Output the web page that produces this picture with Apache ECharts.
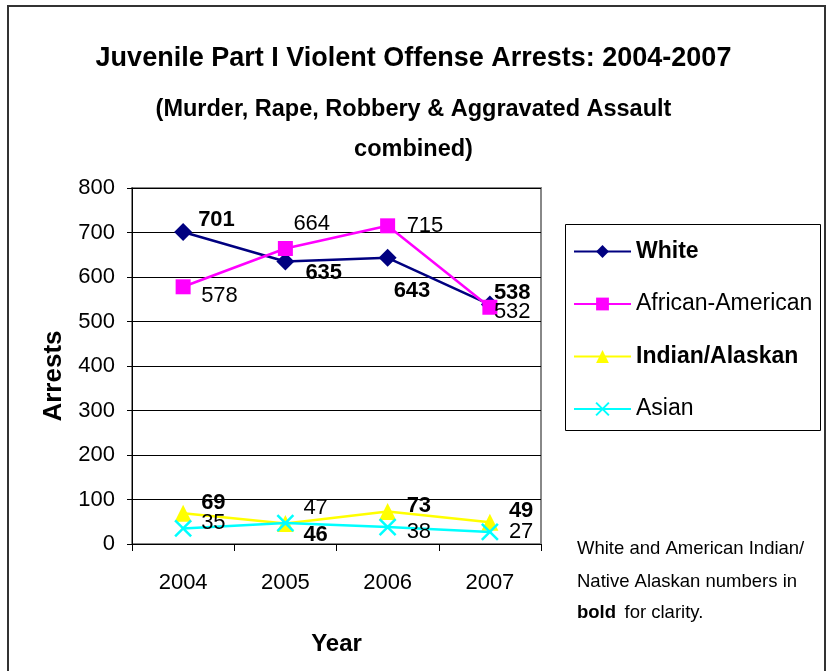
<!DOCTYPE html>
<html>
<head>
<meta charset="utf-8">
<script src="https://cdn.jsdelivr.net/npm/echarts@6/dist/echarts.min.js"></script>
<style>
html,body{margin:0;padding:0;background:#fff;}
#chart{width:827px;height:671px;}
</style>
</head>
<body>
<div id="chart"></div>
<script>
var years = ['2004', '2005', '2006', '2007'];
var white = [701, 635, 643, 538];
var africanAmerican = [578, 664, 715, 532];
var indianAlaskan = [69, 46, 73, 49];
var asian = [35, 47, 38, 27];
var yTicks = [0, 100, 200, 300, 400, 500, 600, 700, 800];

// label placement (style only): [dx from point to label left edge, dy to label centre]
var whiteLabelOffsets = [[15, -12], [20, 12], [6, 33], [4, -12]];
var aaLabelOffsets = [[18, 9], [8, -25], [19, 0], [4, 5]];
var indianLabelOffsets = [[18, -10], [18, 11], [19, -6], [19, -11]];
var asianLabelOffsets = [[18, -5], [18, -15], [19, 5], [19, 0]];

var FONT = "'Liberation Sans', Arial, sans-serif";

function build(values, offsets, bold) {
  return values.map(function (v, i) {
    return {
      value: v,
      label: {
        show: true,
        position: 'inside',
        align: 'left',
        verticalAlign: 'middle',
        offset: offsets[i],
        color: '#000',
        fontFamily: FONT,
        fontSize: 22,
        fontWeight: bold ? 'bold' : 'normal'
      }
    };
  });
}

var chart = echarts.init(document.getElementById('chart'), null, {renderer: 'canvas'});
var option = {
  backgroundColor: '#fff',
  animation: false,
  title: [
    {
      text: 'Juvenile Part I Violent Offense Arrests: 2004-2007',
      left: 'center', top: 40,
      textStyle: {fontFamily: FONT, fontSize: 27, fontWeight: 'bold', color: '#000'}
    },
    {
      text: '(Murder, Rape, Robbery & Aggravated Assault',
      left: 'center', top: 93,
      textStyle: {fontFamily: FONT, fontSize: 23.5, fontWeight: 'bold', color: '#000'}
    },
    {
      text: 'combined)',
      left: 'center', top: 133,
      textStyle: {fontFamily: FONT, fontSize: 23.5, fontWeight: 'bold', color: '#000'}
    }
  ],
  grid: {
    left: 132, top: 188, width: 409, height: 356,
    show: true, borderColor: '#888', borderWidth: 2, backgroundColor: 'transparent'
  },
  xAxis: {
    type: 'category',
    data: years,
    boundaryGap: true,
    name: 'Year',
    nameLocation: 'middle',
    nameGap: 88,
    nameTextStyle: {fontFamily: FONT, fontSize: 24, fontWeight: 'bold', color: '#000'},
    axisLine: {show: true, lineStyle: {color: '#000', width: 1}},
    axisTick: {show: true, alignWithLabel: false, length: 7, lineStyle: {color: '#000'}},
    axisLabel: {fontFamily: FONT, fontSize: 22, color: '#000', margin: 28},
    splitLine: {show: false}
  },
  yAxis: {
    type: 'value',
    min: 0, max: 800, interval: 100,
    axisLine: {show: true, lineStyle: {color: '#000', width: 1}},
    axisTick: {show: true, length: 5, lineStyle: {color: '#000'}},
    axisLabel: {
      fontFamily: FONT, fontSize: 22, color: '#000', margin: 17,
      formatter: function (v) { return yTicks.indexOf(v) >= 0 ? String(v) : ''; }
    },
    splitLine: {show: true, lineStyle: {color: '#000', width: 1}}
  },
  legend: {
    orient: 'vertical',
    left: 573, top: 240,
    padding: 0,
    itemWidth: 57, itemHeight: 16,
    itemGap: 29.5,
    data: ['White', 'African-American', 'Indian/Alaskan', 'Asian'],
    formatter: function (name) {
      return (name === 'White' || name === 'Indian/Alaskan') ? '{b|' + name + '}' : '{n|' + name + '}';
    },
    textStyle: {
      color: '#000',
      rich: {
        b: {fontFamily: FONT, fontSize: 23, fontWeight: 'bold', color: '#000'},
        n: {fontFamily: FONT, fontSize: 23, color: '#000'}
      }
    }
  },
  graphic: [
    {type: 'rect', shape: {x: 8, y: 6, width: 817, height: 680}, style: {fill: 'none', stroke: '#333', lineWidth: 2}, silent: true, z: -1},
    {type: 'rect', shape: {x: 565.5, y: 224.5, width: 255, height: 206}, style: {fill: 'none', stroke: '#000', lineWidth: 1}, silent: true},
    {type: 'text', x: 54, y: 376, rotation: Math.PI / 2, style: {
      text: 'Arrests', fontFamily: FONT, fontSize: 26, fontWeight: 'bold', fill: '#000',
      align: 'center', verticalAlign: 'middle'
    }},
    {type: 'text', left: 577, top: 539, style: {text: 'White and American Indian/', fontFamily: FONT, fontSize: 18.5, fill: '#000'}},
    {type: 'text', left: 577, top: 572, style: {text: 'Native Alaskan numbers in', fontFamily: FONT, fontSize: 18.5, fill: '#000'}},
    {type: 'text', left: 577, top: 603, style: {
      text: '{b|bold} {n| for clarity.}',
      rich: {
        b: {fontFamily: FONT, fontSize: 18.5, fontWeight: 'bold', fill: '#000'},
        n: {fontFamily: FONT, fontSize: 18.5, fill: '#000'}
      }
    }}
  ],
  series: [
    {
      name: 'White', type: 'line',
      data: build(white, whiteLabelOffsets, true),
      symbol: 'diamond', symbolSize: 18,
      lineStyle: {color: '#000080', width: 2.5},
      itemStyle: {color: '#000080'},
      z: 2
    },
    {
      name: 'African-American', type: 'line',
      data: build(africanAmerican, aaLabelOffsets, false),
      symbol: 'rect', symbolSize: 15,
      lineStyle: {color: '#FF00FF', width: 2.5},
      itemStyle: {color: '#FF00FF'},
      z: 3
    },
    {
      name: 'Indian/Alaskan', type: 'line',
      data: build(indianAlaskan, indianLabelOffsets, true),
      symbol: 'triangle', symbolSize: 17,
      lineStyle: {color: '#FFFF00', width: 2.5},
      itemStyle: {color: '#FFFF00'},
      z: 4
    },
    {
      name: 'Asian', type: 'line',
      data: build(asian, asianLabelOffsets, false),
      symbol: 'path://M0,0 L10,10 M10,0 L0,10', symbolSize: 16,
      lineStyle: {color: '#00FFFF', width: 2.5},
      itemStyle: {color: 'none', borderColor: '#00FFFF', borderWidth: 2.5},
      z: 5
    }
  ]
};
chart.setOption(option);
</script>
</body>
</html>
